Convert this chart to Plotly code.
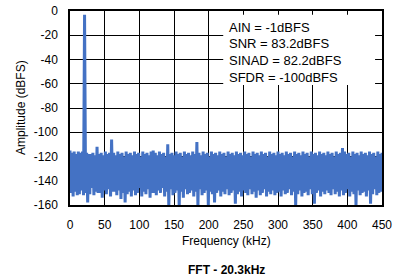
import plotly.graph_objects as go

# FFT bin frequencies (kHz), 1.5 kHz spacing, 0..450
freq_khz = [i * 1.5 for i in range(301)]

amplitude_dbfs = [
    -115, -150, -117, -153, -116, -149, -118, -152, -116, -151, -117, -148, -116, -152, -3, -150, -117, -158, -118, -151,
    -118, -146, -117, -152, -119, -149, -112, -150, -118, -150, -117, -154, -119, -148, -116, -151, -118, -147, -117, -153,
    -106, -149, -117, -149, -119, -152, -116, -148, -118, -155, -117, -150, -120, -158, -116, -151, -118, -149, -117, -153,
    -119, -148, -116, -152, -118, -150, -117, -146, -120, -153, -116, -149, -118, -151, -117, -147, -119, -154, -116, -150,
    -115, -150, -117, -152, -119, -148, -116, -150, -118, -146, -117, -153, -120, -149, -110, -161, -118, -147, -117, -152,
    -119, -150, -116, -148, -118, -161, -117, -149, -120, -154, -116, -147, -118, -151, -117, -150, -119, -148, -116, -153,
    -118, -149, -108, -161, -117, -147, -119, -152, -116, -150, -118, -148, -117, -160, -120, -149, -116, -151, -118, -158,
    -117, -150, -119, -148, -116, -153, -118, -149, -117, -151, -120, -147, -116, -152, -118, -150, -117, -148, -119, -159,
    -116, -151, -118, -149, -117, -153, -119, -148, -116, -150, -118, -152, -117, -147, -120, -151, -116, -149, -118, -154,
    -117, -148, -119, -152, -116, -150, -118, -147, -117, -153, -120, -149, -116, -151, -118, -148, -117, -152, -119, -150,
    -116, -149, -118, -153, -117, -148, -119, -151, -116, -150, -118, -147, -117, -152, -120, -149, -116, -160, -118, -151,
    -117, -148, -119, -153, -116, -150, -118, -149, -117, -152, -120, -147, -116, -151, -118, -159, -117, -150, -119, -148,
    -116, -153, -118, -149, -117, -151, -119, -148, -116, -150, -118, -152, -117, -147, -120, -151, -116, -149, -118, -153,
    -117, -148, -113, -152, -116, -150, -118, -147, -117, -153, -120, -149, -116, -151, -118, -160, -117, -148, -119, -152,
    -116, -150, -118, -149, -117, -153, -119, -148, -116, -159, -118, -151, -117, -147, -120, -152, -116, -150, -118, -149,
    -117,
]

x_ticks = [0, 50, 100, 150, 200, 250, 300, 350, 400, 450]
y_ticks = [0, -20, -40, -60, -80, -100, -120, -140, -160]

stats_lines = ["AIN = -1dBFS", "SNR = 83.2dBFS", "SINAD = 82.2dBFS", "SFDR = -100dBFS"]

FONT = "Arial, Liberation Sans, sans-serif"

fig = go.Figure()
fig.add_trace(go.Scatter(
    x=freq_khz, y=amplitude_dbfs, mode="lines",
    line=dict(color="#4472C4", width=3, simplify=False),
    showlegend=False, hoverinfo="skip",
))

# white box behind the statistics text
fig.add_shape(type="rect", xref="x", yref="y", x0=221, x1=440, y0=-61, y1=-3,
              fillcolor="white", line=dict(width=0), layer="above")

stat_y = [-13.5, -26.8, -40.6, -54.5]
for txt, yy in zip(stats_lines, stat_y):
    fig.add_annotation(x=226, y=yy, xref="x", yref="y", text=txt, showarrow=False,
                       xanchor="left", yanchor="middle",
                       font=dict(family=FONT, size=13, color="black"))

fig.add_annotation(x=0.5, y=-0.186, xref="paper", yref="paper", text="Frequency (kHz)",
                   showarrow=False, xanchor="center", yanchor="middle",
                   font=dict(family=FONT, size=12, color="black"))
fig.add_annotation(x=0.5, y=-0.335, xref="paper", yref="paper", text="<b>FFT - 20.3kHz</b>",
                   showarrow=False, xanchor="center", yanchor="middle",
                   font=dict(family=FONT, size=12, color="black"))
fig.add_annotation(x=-0.157, y=0.5, xref="paper", yref="paper", text="Amplitude (dBFS)",
                   showarrow=False, xanchor="center", yanchor="middle", textangle=-90,
                   font=dict(family=FONT, size=12, color="black"))

fig.update_xaxes(range=[0, 450], tickvals=x_ticks, ticktext=[str(v) for v in x_ticks],
                 showgrid=True, gridcolor="black", gridwidth=1,
                 showline=True, linecolor="black", linewidth=1.5, mirror=True,
                 zeroline=False, ticks="", ticklabelstandoff=8, automargin=False,
                 tickfont=dict(family=FONT, size=12, color="black"))
fig.update_yaxes(range=[-160, 0], tickvals=y_ticks, ticktext=[str(v) for v in y_ticks],
                 showgrid=True, gridcolor="black", gridwidth=1,
                 showline=True, linecolor="black", linewidth=1.5, mirror=True,
                 zeroline=False, ticks="", ticklabelstandoff=8, automargin=False,
                 tickfont=dict(family=FONT, size=12, color="black"))

fig.update_layout(width=405, height=279,
                  margin=dict(l=70, r=23, t=11, b=74, autoexpand=False),
                  paper_bgcolor="white", plot_bgcolor="white")

fig.write_html("out.html", config={"displayModeBar": False},
               post_script="document.body.style.margin='0';")
